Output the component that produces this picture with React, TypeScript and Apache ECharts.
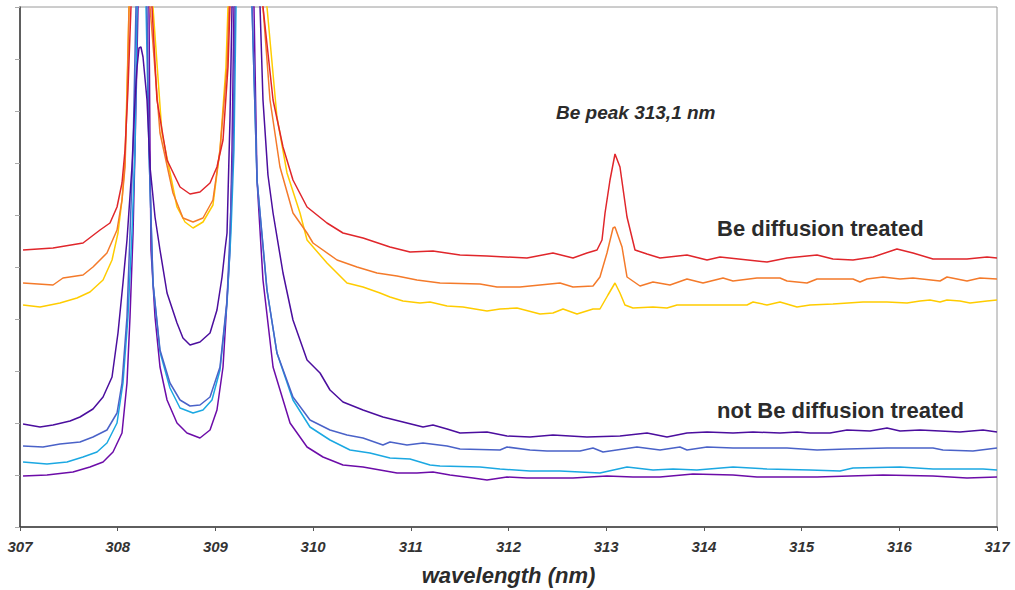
import React, { useEffect, useRef } from "react";
import * as echarts from "echarts";

// wavelength (nm) ticks
const xTicks = [307, 308, 309, 310, 311, 312, 313, 314, 315, 316, 317];

// Spectra: [wavelength nm, intensity a.u.] (axis 0..520, peaks clipped at top)
const redTreated: [number, number][] = [
  [307.031, 277], [307.338, 279], [307.645, 284], [307.819, 297], [307.921, 304], [307.993, 320],
  [308.044, 344], [308.075, 377], [308.105, 437], [308.136, 520], [308.238, 627], [308.351, 520],
  [308.402, 427], [308.505, 367], [308.638, 340], [308.74, 333], [308.842, 335], [308.945, 344],
  [309.016, 360], [309.078, 387], [309.129, 460], [309.149, 520], [309.313, 627], [309.487, 520],
  [309.59, 427], [309.692, 380], [309.794, 347], [309.938, 320], [310.142, 304], [310.306, 294],
  [310.511, 289], [310.787, 280], [310.992, 275], [311.227, 276], [311.504, 272], [311.78, 271],
  [312.189, 269], [312.455, 274], [312.66, 269], [312.803, 274], [312.906, 277], [312.957, 287],
  [312.988, 314], [313.039, 347], [313.09, 373], [313.141, 360], [313.213, 310], [313.295, 277],
  [313.418, 273], [313.551, 269], [313.827, 272], [314.032, 267], [314.165, 270], [314.646, 265],
  [314.851, 269], [315.158, 272], [315.321, 268], [315.526, 267], [315.731, 270], [315.976, 278],
  [316.14, 274], [316.345, 268], [316.693, 268], [316.898, 270], [317.0, 269],
];

const orangeTreated: [number, number][] = [
  [307.031, 244], [307.338, 242], [307.44, 249], [307.645, 252], [307.747, 260], [307.89, 274],
  [307.993, 297], [308.044, 327], [308.075, 360], [308.095, 427], [308.116, 520], [308.228, 627],
  [308.331, 520], [308.433, 394], [308.566, 334], [308.668, 309], [308.771, 305], [308.873, 309],
  [308.975, 327], [309.047, 377], [309.119, 460], [309.139, 520], [309.313, 627], [309.487, 520],
  [309.559, 427], [309.661, 360], [309.794, 314], [309.938, 294], [309.999, 284], [310.245, 267],
  [310.449, 260], [310.654, 254], [310.859, 251], [311.063, 247], [311.299, 244], [311.708, 243],
  [311.882, 240], [312.117, 240], [312.527, 244], [312.66, 240], [312.865, 241], [312.936, 250],
  [313.008, 274], [313.07, 299], [313.09, 300], [313.162, 280], [313.213, 250], [313.346, 241],
  [313.479, 245], [313.653, 242], [313.827, 248], [313.991, 244], [314.196, 249], [314.298, 246],
  [314.543, 249], [314.779, 249], [314.851, 246], [315.055, 244], [315.158, 248], [315.526, 248],
  [315.598, 245], [315.669, 248], [315.833, 250], [316.007, 248], [316.14, 249], [316.417, 246],
  [316.488, 250], [316.693, 246], [316.826, 249], [317.0, 248],
];

const yellowTreated: [number, number][] = [
  [307.031, 222], [307.205, 220], [307.409, 224], [307.583, 229], [307.716, 235], [307.85, 247],
  [307.942, 267], [308.003, 294], [308.044, 327], [308.075, 367], [308.095, 437], [308.116, 520],
  [308.238, 627], [308.361, 520], [308.453, 394], [308.607, 320], [308.689, 305], [308.771, 299],
  [308.873, 305], [308.975, 322], [309.047, 377], [309.108, 460], [309.129, 520], [309.323, 627],
  [309.528, 520], [309.63, 410], [309.733, 354], [309.866, 314], [309.938, 287], [310.142, 264],
  [310.347, 244], [310.511, 240], [310.685, 234], [310.787, 230], [310.92, 226], [311.094, 224],
  [311.197, 225], [311.371, 221], [311.534, 220], [311.78, 216], [311.913, 218], [312.087, 219],
  [312.322, 213], [312.455, 214], [312.558, 218], [312.701, 213], [312.865, 218], [312.936, 218],
  [313.018, 232], [313.09, 244], [313.141, 234], [313.192, 222], [313.274, 219], [313.479, 220],
  [313.622, 219], [313.725, 222], [313.888, 222], [314.441, 222], [314.503, 225], [314.646, 222],
  [314.779, 225], [314.953, 220], [315.086, 222], [315.321, 223], [315.628, 225], [315.874, 225],
  [316.079, 224], [316.212, 226], [316.314, 227], [316.417, 225], [316.488, 227], [316.621, 226],
  [316.724, 224], [316.898, 226], [317.0, 227],
];

const violetUntreated: [number, number][] = [
  [307.031, 103], [307.205, 100], [307.338, 102], [307.512, 106], [307.614, 110], [307.747, 118],
  [307.85, 130], [307.942, 150], [308.003, 194], [308.054, 244], [308.095, 287], [308.146, 360],
  [308.177, 427], [308.198, 460], [308.218, 479], [308.238, 480], [308.259, 470], [308.3, 427],
  [308.331, 360], [308.382, 310], [308.433, 277], [308.505, 234], [308.607, 204], [308.668, 189],
  [308.74, 182], [308.842, 185], [308.945, 194], [309.016, 217], [309.068, 250], [309.098, 277],
  [309.119, 294], [309.149, 407], [309.17, 520], [309.303, 627], [309.457, 520], [309.487, 427],
  [309.538, 352], [309.59, 314], [309.692, 254], [309.794, 207], [309.938, 167], [310.071, 154],
  [310.173, 137], [310.306, 125], [310.511, 117], [310.715, 110], [310.92, 105], [311.125, 100],
  [311.227, 102], [311.371, 98], [311.504, 94], [311.78, 95], [311.985, 91], [312.22, 90],
  [312.455, 92], [312.803, 90], [313.141, 91], [313.418, 94], [313.622, 90], [313.827, 94],
  [314.032, 95], [314.298, 94], [314.503, 95], [314.779, 94], [314.953, 95], [315.086, 94],
  [315.291, 94], [315.465, 97], [315.7, 96], [315.874, 99], [316.007, 96], [316.212, 97],
  [316.417, 96], [316.621, 95], [316.857, 97], [317.0, 95],
];

const blueUntreated: [number, number][] = [
  [307.031, 81], [307.235, 80], [307.409, 83], [307.614, 85], [307.747, 90], [307.89, 97],
  [307.993, 114], [308.044, 144], [308.095, 210], [308.126, 294], [308.157, 377], [308.187, 520],
  [308.238, 627], [308.3, 520], [308.32, 377], [308.361, 244], [308.433, 177], [308.535, 144],
  [308.638, 127], [308.74, 121], [308.842, 122], [308.945, 130], [309.047, 160], [309.119, 227],
  [309.149, 294], [309.18, 377], [309.201, 520], [309.282, 627], [309.375, 520], [309.426, 347],
  [309.528, 237], [309.63, 174], [309.794, 130], [309.968, 107], [310.173, 97], [310.347, 92],
  [310.511, 89], [310.715, 82], [310.787, 85], [310.961, 82], [311.125, 84], [311.371, 81],
  [311.504, 78], [311.913, 77], [311.985, 80], [312.22, 77], [312.394, 76], [312.732, 76],
  [312.865, 79], [312.967, 75], [313.315, 80], [313.551, 77], [313.755, 80], [313.827, 77],
  [314.032, 80], [314.298, 79], [314.851, 79], [315.158, 77], [315.465, 78], [315.874, 79],
  [316.345, 79], [316.447, 77], [316.754, 76], [317.0, 79],
];

const cyanUntreated: [number, number][] = [
  [307.031, 65], [307.276, 63], [307.481, 65], [307.645, 70], [307.788, 75], [307.89, 84],
  [307.993, 104], [308.054, 144], [308.105, 210], [308.146, 294], [308.177, 377], [308.198, 520],
  [308.249, 627], [308.29, 520], [308.32, 377], [308.361, 244], [308.433, 175], [308.535, 139],
  [308.638, 119], [308.771, 114], [308.873, 117], [308.965, 127], [309.047, 157], [309.119, 224],
  [309.159, 294], [309.19, 377], [309.211, 520], [309.292, 627], [309.375, 520], [309.426, 347],
  [309.528, 237], [309.63, 174], [309.794, 127], [309.968, 100], [310.173, 87], [310.378, 77],
  [310.582, 74], [310.787, 69], [310.992, 68], [311.197, 62], [311.299, 61], [311.708, 60],
  [311.913, 58], [312.22, 56], [312.527, 56], [312.936, 54], [313.213, 60], [313.479, 57],
  [313.684, 58], [313.929, 57], [314.298, 60], [314.646, 58], [315.086, 57], [315.393, 56],
  [315.526, 59], [316.007, 60], [316.345, 58], [316.857, 58], [317.0, 57],
];

const purpleUntreated: [number, number][] = [
  [307.031, 51], [307.276, 52], [307.542, 55], [307.716, 60], [307.85, 65], [307.952, 75],
  [308.044, 94], [308.095, 144], [308.126, 210], [308.157, 294], [308.177, 377], [308.208, 520],
  [308.259, 627], [308.32, 520], [308.331, 377], [308.341, 277], [308.382, 210], [308.433, 160],
  [308.505, 127], [308.607, 104], [308.709, 94], [308.842, 89], [308.945, 97], [309.016, 117],
  [309.078, 160], [309.119, 227], [309.149, 277], [309.17, 377], [309.19, 520], [309.292, 627],
  [309.395, 520], [309.426, 347], [309.487, 247], [309.59, 160], [309.764, 104], [309.938, 80],
  [310.101, 70], [310.306, 62], [310.511, 60], [310.685, 57], [310.859, 54], [311.063, 54],
  [311.227, 55], [311.401, 52], [311.637, 49], [311.78, 47], [311.985, 50], [312.189, 49],
  [312.66, 49], [313.008, 51], [313.274, 50], [313.551, 50], [313.888, 53], [314.298, 52],
  [314.543, 50], [315.158, 50], [315.833, 52], [316.345, 51], [316.693, 49], [317.0, 50],
];

const seriesNames = [
  "Be treated 1", "Be treated 2", "Be treated 3",
  "untreated 1", "untreated 2", "untreated 3", "untreated 4",
];
const seriesData = [
  redTreated, orangeTreated, yellowTreated,
  violetUntreated, blueUntreated, cyanUntreated, purpleUntreated,
];
const seriesColors = ["#e0262b", "#f47a2a", "#ffcc00", "#4b0e9e", "#4a62c8", "#1ba8e2", "#6c0ca8"];

const annotations = {
  bePeak: "Be peak 313,1 nm",
  treated: "Be diffusion treated",
  untreated: "not Be diffusion treated",
  xName: "wavelength (nm)",
};

const FONT = '"Liberation Sans", Arial, Helvetica, sans-serif';

export default function App() {
  const ref = useRef<HTMLDivElement>(null);
  useEffect(() => {
    if (!ref.current) return;
    const chart = echarts.init(ref.current, undefined, { renderer: "svg" });
    chart.setOption({
      animation: false,
      backgroundColor: "#ffffff",
      grid: {
        left: 20,
        right: 18,
        top: 7,
        bottom: 63,
        outerBoundsMode: "none",
        containLabel: false,
        show: true,
        borderColor: "#9a9a9a",
        borderWidth: 1,
        backgroundColor: "transparent",
      },
      xAxis: {
        type: "value",
        min: xTicks[0],
        max: xTicks[xTicks.length - 1],
        interval: 1,
        name: annotations.xName,
        nameLocation: "middle",
        nameGap: 37,
        nameTextStyle: {
          fontFamily: FONT,
          fontSize: 22,
          fontWeight: "bold",
          fontStyle: "italic",
          color: "#2b2b2b",
        },
        axisLine: { show: true, lineStyle: { color: "#3a3a3a", width: 1.5 } },
        axisTick: { show: true, length: 4, lineStyle: { color: "#555" } },
        splitLine: { show: false },
        axisLabel: {
          fontFamily: FONT,
          fontSize: 15,
          fontWeight: "bold",
          fontStyle: "italic",
          color: "#333333",
          margin: 12,
        },
      },
      yAxis: {
        type: "value",
        min: 0,
        max: 520,
        interval: 52,
        axisLine: { show: true, lineStyle: { color: "#3a3a3a", width: 1.5 } },
        axisTick: { show: true, length: 5, lineStyle: { color: "#aaaaaa" } },
        axisLabel: { show: false },
        splitLine: { show: false },
      },
      series: seriesData.map((d, i) => ({
        name: seriesNames[i],
        type: "line",
        data: d,
        showSymbol: false,
        symbol: "none",
        clip: true,
        z: 10 - i,
        lineStyle: { color: seriesColors[i], width: 1.5 },
        itemStyle: { color: seriesColors[i] },
      })),
      graphic: [
        {
          type: "text",
          x: 556,
          y: 112,
          style: {
            text: annotations.bePeak,
            font: `italic bold 19px ${FONT}`,
            fill: "#2b2b2b",
            textAlign: "left",
            textVerticalAlign: "middle",
          },
        },
        {
          type: "text",
          x: 717,
          y: 228,
          style: {
            text: annotations.treated,
            font: `bold 22px ${FONT}`,
            fill: "#2b2b2b",
            textAlign: "left",
            textVerticalAlign: "middle",
          },
        },
        {
          type: "text",
          x: 717,
          y: 410,
          style: {
            text: annotations.untreated,
            font: `bold 22px ${FONT}`,
            fill: "#2b2b2b",
            textAlign: "left",
            textVerticalAlign: "middle",
          },
        },
      ],
    });
    return () => chart.dispose();
  }, []);
  return (
    <div
      ref={ref}
      style={{ position: "fixed", left: 0, top: 0, width: 1015, height: 590, background: "#fff" }}
    />
  );
}
